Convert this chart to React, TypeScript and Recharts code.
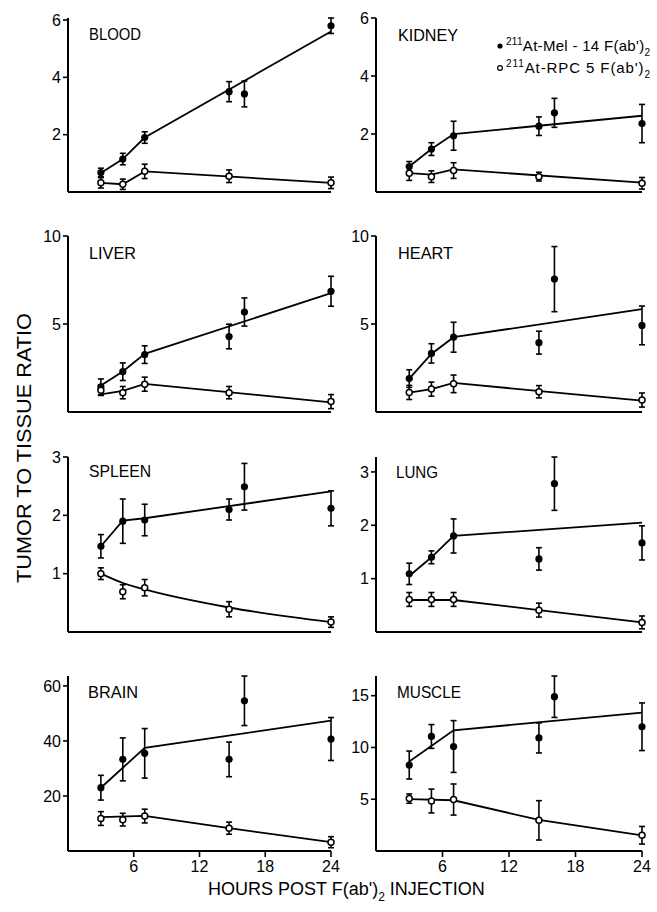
import { ComposedChart, Line, Scatter, XAxis, YAxis, ErrorBar } from "recharts"

// sampling times (hours post injection)
const hoursMel = [3, 5, 7, 14.7, 16.1, 24]
const hoursRpc = [3, 5, 7, 14.7, 24]
const hourTicks = [6, 12, 18, 24]

// fitted line knots
const fit4 = [3, 5, 7, 24]
const fit3 = [3, 7, 24]
const fitTail = [3, 7, 14.7, 24]
const fitCurve = [3, 5, 7, 14.7, 24]

const bloodMel = [0.68, 1.15, 1.9, 3.5, 3.42, 5.8]
const bloodMelErr = [0.15, 0.2, 0.2, 0.35, 0.45, 0.27]
const bloodRpc = [0.32, 0.27, 0.72, 0.55, 0.32]
const bloodRpcErr = [0.18, 0.18, 0.25, 0.22, 0.2]
const bloodMelFit = [0.66, 1.15, 1.9, 5.6]
const bloodRpcFit = [0.32, 0.27, 0.72, 0.32]

const kidneyMel = [0.88, 1.48, 1.94, 2.27, 2.73, 2.36]
const kidneyMelErr = [0.17, 0.22, 0.5, 0.32, 0.5, 0.66]
const kidneyRpc = [0.65, 0.53, 0.74, 0.53, 0.3]
const kidneyRpcErr = [0.25, 0.2, 0.27, 0.15, 0.2]
const kidneyMelFit = [0.88, 1.48, 2.0, 2.63]
const kidneyRpcFit = [0.65, 0.6, 0.78, 0.32]

const liverMel = [1.43, 2.29, 3.26, 4.29, 5.68, 6.86]
const liverMelErr = [0.45, 0.5, 0.5, 0.7, 0.8, 0.85]
const liverRpc = [1.24, 1.1, 1.58, 1.1, 0.59]
const liverRpcErr = [0.3, 0.35, 0.4, 0.35, 0.4]
const liverMelFit = [1.5, 2.3, 3.3, 6.75]
const liverRpcFit = [1.0, 1.2, 1.6, 0.55]

const heartMel = [1.9, 3.33, 4.25, 3.94, 7.55, 4.92]
const heartMelErr = [0.5, 0.55, 0.85, 0.65, 1.85, 1.1]
const heartRpc = [1.11, 1.3, 1.6, 1.15, 0.68]
const heartRpcErr = [0.4, 0.4, 0.5, 0.35, 0.4]
const heartMelFit = [1.9, 3.3, 4.25, 5.85]
const heartRpcFit = [1.1, 1.3, 1.65, 0.65]

const spleenMel = [1.47, 1.9, 1.92, 2.1, 2.49, 2.12]
const spleenMelErr = [0.2, 0.38, 0.27, 0.18, 0.4, 0.3]
const spleenRpc = [1.0, 0.69, 0.76, 0.39, 0.17]
const spleenRpcErr = [0.1, 0.12, 0.14, 0.13, 0.09]
const spleenMelFit = [1.47, 1.91, 1.95, 2.41]
const spleenRpcFit = [1.0, 0.84, 0.73, 0.42, 0.17]

const lungMel = [1.09, 1.4, 1.8, 1.37, 2.78, 1.67]
const lungMelErr = [0.2, 0.12, 0.32, 0.21, 0.5, 0.32]
const lungRpc = [0.61, 0.61, 0.61, 0.41, 0.18]
const lungRpcErr = [0.13, 0.13, 0.13, 0.13, 0.12]
const lungMelFit = [1.05, 1.4, 1.8, 2.05]
const lungRpcFit = [0.6, 0.6, 0.41, 0.18]

const brainMel = [23, 33.3, 35.5, 33.3, 54.6, 40.7]
const brainMelErr = [4.5, 7.8, 9, 6.3, 9, 7.8]
const brainRpc = [11.8, 11.4, 12.7, 8.3, 3.2]
const brainRpcErr = [2.5, 2.3, 2.5, 2.2, 2]
const brainMelFit = [23, 37.5, 47.4]
const brainRpcFit = [12.3, 12.8, 8.3, 3.2]

const muscleMel = [8.3, 11.06, 10.09, 10.92, 14.9, 12.0]
const muscleMelErr = [1.35, 1.15, 2.5, 1.45, 2.0, 2.3]
const muscleRpc = [5.06, 4.83, 4.97, 2.96, 1.52]
const muscleRpcErr = [0.45, 1.15, 1.5, 1.9, 0.85]
const muscleMelFit = [8.64, 11.66, 13.36]
const muscleRpcFit = [5.0, 4.9, 3.0, 1.5]

const panels = [
  { name: "BLOOD", col: 0, row: 0, yMax: 6, yTicks: [2, 4, 6], mel: bloodMel, melErr: bloodMelErr, rpc: bloodRpc, rpcErr: bloodRpcErr, melFitX: fit4, melFit: bloodMelFit, rpcFitX: fit4, rpcFit: bloodRpcFit },
  { name: "KIDNEY", col: 1, row: 0, yMax: 6, yTicks: [2, 4, 6], mel: kidneyMel, melErr: kidneyMelErr, rpc: kidneyRpc, rpcErr: kidneyRpcErr, melFitX: fit4, melFit: kidneyMelFit, rpcFitX: fit4, rpcFit: kidneyRpcFit },
  { name: "LIVER", col: 0, row: 1, yMax: 10, yTicks: [5, 10], mel: liverMel, melErr: liverMelErr, rpc: liverRpc, rpcErr: liverRpcErr, melFitX: fit4, melFit: liverMelFit, rpcFitX: fit4, rpcFit: liverRpcFit },
  { name: "HEART", col: 1, row: 1, yMax: 10, yTicks: [5, 10], mel: heartMel, melErr: heartMelErr, rpc: heartRpc, rpcErr: heartRpcErr, melFitX: fit4, melFit: heartMelFit, rpcFitX: fit4, rpcFit: heartRpcFit },
  { name: "SPLEEN", col: 0, row: 2, yMax: 3, yTicks: [1, 2, 3], mel: spleenMel, melErr: spleenMelErr, rpc: spleenRpc, rpcErr: spleenRpcErr, melFitX: fit4, melFit: spleenMelFit, rpcFitX: fitCurve, rpcFit: spleenRpcFit, curved: true },
  { name: "LUNG", col: 1, row: 2, yMax: 3, yTicks: [1, 2, 3], mel: lungMel, melErr: lungMelErr, rpc: lungRpc, rpcErr: lungRpcErr, melFitX: fit4, melFit: lungMelFit, rpcFitX: fitTail, rpcFit: lungRpcFit },
  { name: "BRAIN", col: 0, row: 3, yMax: 60, yTicks: [20, 40, 60], mel: brainMel, melErr: brainMelErr, rpc: brainRpc, rpcErr: brainRpcErr, melFitX: fit3, melFit: brainMelFit, rpcFitX: fitTail, rpcFit: brainRpcFit },
  { name: "MUSCLE", col: 1, row: 3, yMax: 15, yTicks: [5, 10, 15], mel: muscleMel, melErr: muscleMelErr, rpc: muscleRpc, rpcErr: muscleRpcErr, melFitX: fit3, melFit: muscleMelFit, rpcFitX: fitTail, rpcFit: muscleRpcFit },
]

// plot area top/bottom per row, in page pixels
const rowBox = [
  { top: 18, bottom: 192 },
  { top: 236, bottom: 412 },
  { top: 457, bottom: 632 },
  { top: 676, bottom: 851 },
]

// title anchors per panel (left x, baseline y, width)
const titlePos: Record<string, [number, number, number]> = {
  BLOOD: [89, 40, 52],
  KIDNEY: [398, 41, 60],
  LIVER: [89, 259, 47],
  HEART: [398, 259, 55],
  SPLEEN: [89, 477, 62],
  LUNG: [396, 478, 42],
  BRAIN: [88, 698, 50],
  MUSCLE: [397, 698, 64],
}

const font = "'Liberation Sans', Arial, sans-serif"
const tickStyle = { fill: "#000", fontSize: 16, fontFamily: font }

const filledDot = (props: any) => <circle cx={props.cx} cy={props.cy} r={3.6} fill="#000" />
const openDot = (props: any) => (
  <circle cx={props.cx} cy={props.cy} r={3} fill="#fff" stroke="#000" strokeWidth={1.5} />
)

function Panel({ p }: { p: any }) {
  const left = p.col === 0
  const box = rowBox[p.row]
  const bottomRow = p.row === 3
  const mt = 28
  const xh = bottomRow ? 32 : 10
  const width = left ? 341 : 312
  const height = mt + (box.bottom - box.top) + xh

  const melPts = hoursMel.map((h, i) => ({ x: h, y: p.mel[i], err: p.melErr[i] }))
  const rpcPts = hoursRpc.map((h, i) => ({ x: h, y: p.rpc[i], err: p.rpcErr[i] }))
  const melLine = p.melFitX.map((h: number, i: number) => ({ x: h, y: p.melFit[i] }))
  const rpcLine = p.rpcFitX.map((h: number, i: number) => ({ x: h, y: p.rpcFit[i] }))

  return (
    <div style={{ position: "absolute", left: left ? 0 : 340, top: box.top - mt }}>
      <ComposedChart width={width} height={height} margin={{ top: mt, right: 10, bottom: 0, left: 0 }}>
        <XAxis
          type="number"
          dataKey="x"
          domain={[0, 24]}
          ticks={hourTicks}
          height={xh}
          tickSize={6}
          tickMargin={4}
          axisLine={{ stroke: "#000", strokeWidth: 2 }}
          tickLine={{ stroke: "#000", strokeWidth: 1.6 }}
          tick={bottomRow ? tickStyle : false}
        />
        <YAxis
          type="number"
          dataKey="y"
          domain={[0, () => p.yMax]}
          ticks={p.yTicks}
          width={left ? 68 : 36}
          tickSize={5}
          tickMargin={2}
          axisLine={{ stroke: "#000", strokeWidth: 2 }}
          tickLine={{ stroke: "#000", strokeWidth: 1.6 }}
          tick={tickStyle}
        />
        <Line data={melLine} dataKey="y" type="linear" stroke="#000" strokeWidth={1.8} dot={false} activeDot={false} isAnimationActive={false} />
        <Line data={rpcLine} dataKey="y" type={p.curved ? "monotone" : "linear"} stroke="#000" strokeWidth={1.8} dot={false} activeDot={false} isAnimationActive={false} />
        <Scatter data={melPts} dataKey="y" shape={filledDot} isAnimationActive={false}>
          <ErrorBar dataKey="err" direction="y" width={3} stroke="#000" strokeWidth={1.6} />
        </Scatter>
        <Scatter data={rpcPts} dataKey="y" shape={openDot} isAnimationActive={false}>
          <ErrorBar dataKey="err" direction="y" width={3} stroke="#000" strokeWidth={1.6} />
        </Scatter>
      </ComposedChart>
    </div>
  )
}

export default function App() {
  return (
    <div style={{ position: "absolute", left: 0, top: 0, width: 657, height: 912, background: "#fff" }}>
      {panels.map((p) => (
        <Panel key={p.name} p={p} />
      ))}
      <svg width={657} height={912} style={{ position: "absolute", left: 0, top: 0, pointerEvents: "none" }}>
        <g fontFamily={font} fill="#000">
          {panels.map((p) => {
            const [x, y, w] = titlePos[p.name]
            return (
              <text key={p.name} x={x} y={y} fontSize={17} textLength={w} lengthAdjust="spacingAndGlyphs">
                {p.name}
              </text>
            )
          })}
          <circle cx={500} cy={46} r={2.6} fill="#000" />
          <text x={506} y={51} fontSize={15} textLength={144} lengthAdjust="spacing">
            <tspan fontSize={10} dy={-6}>211</tspan>
            <tspan dy={6}>At-Mel - 14 F(ab')</tspan>
            <tspan fontSize={10} dy={5}>2</tspan>
          </text>
          <circle cx={500} cy={68} r={2.4} fill="#fff" stroke="#000" strokeWidth={1.2} />
          <text x={506} y={73} fontSize={15} textLength={144} lengthAdjust="spacing">
            <tspan fontSize={10} dy={-6}>211</tspan>
            <tspan dy={6}>At-RPC 5 F(ab')</tspan>
            <tspan fontSize={10} dy={5}>2</tspan>
          </text>
          <text
            x={0}
            y={0}
            transform="translate(31 448) rotate(-90)"
            textAnchor="middle"
            fontSize={20}
            textLength={270}
            lengthAdjust="spacingAndGlyphs"
          >
            TUMOR TO TISSUE RATIO
          </text>
          <text x={208} y={895} fontSize={18}>
            HOURS POST F(ab')
            <tspan fontSize={12} dy={6}>2</tspan>
            <tspan dy={-6}> INJECTION</tspan>
          </text>
        </g>
      </svg>
    </div>
  )
}
